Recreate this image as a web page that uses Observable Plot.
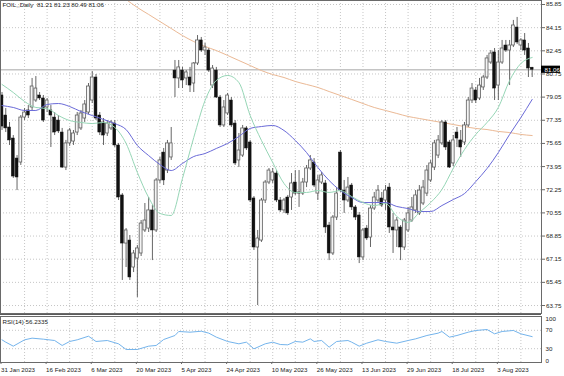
<!DOCTYPE html>
<html><head><meta charset="utf-8">
<script src="https://cdn.jsdelivr.net/npm/d3@7"></script>
<script src="https://cdn.jsdelivr.net/npm/@observablehq/plot@0.6"></script>
<style>
body{margin:0;background:#fff;}
#chart{width:564px;height:376px;overflow:hidden;background:#fff;}
#chart svg{display:block;}
.sep{width:541px;height:0;border-top:2px solid #5a5a5a;}
</style></head><body><div id="chart"></div>
<script>
const titleText = "FOIL,,Daily  81.21 81.23 80.49 81.06";
const rsiTitle = "RSI(14) 56.2335";
const bidPrice = 81.06;

const opens = [79.17,77.70,76.82,76.01,74.54,74.25,77.55,78.07,78.29,78.80,79.17,78.95,78.29,78.07,77.55,77.33,76.45,73.88,75.65,75.79,76.45,76.75,77.48,77.92,78.80,80.49,77.70,77.19,76.38,76.75,77.11,75.50,71.83,68.30,68.52,66.54,67.20,67.57,69.26,69.40,70.73,69.26,72.93,74.98,73.66,74.62,81.00,80.42,81.00,80.42,80.49,80.05,81.52,83.21,82.47,82.47,79.90,81.00,79.02,76.97,77.85,78.80,77.11,74.40,74.76,76.75,75.72,71.61,68.01,68.52,71.46,72.78,72.93,73.44,71.46,70.73,71.68,71.68,72.78,72.05,71.97,72.78,73.81,74.25,71.97,72.78,72.71,69.62,67.57,70.21,74.98,72.19,71.46,72.56,70.95,70.36,67.28,69.40,68.74,70.87,71.46,71.61,71.46,72.41,69.48,69.26,69.48,68.01,69.26,69.99,70.73,70.51,71.24,71.97,72.93,73.88,74.76,75.65,77.19,75.72,74.18,76.45,75.87,75.72,76.97,78.80,79.54,78.95,79.76,80.49,81.59,82.33,79.90,81.59,82.84,82.47,82.84,84.16,82.84,83.21,82.62,81.21];
const highs = [79.39,78.21,77.19,76.23,74.76,77.70,78.21,78.43,80.42,80.56,79.39,79.17,78.95,78.43,77.92,77.70,76.75,75.87,76.75,76.60,77.92,78.07,78.80,80.05,80.93,80.71,77.92,77.48,77.33,77.33,77.33,75.65,71.97,69.40,68.89,67.79,68.16,69.99,71.24,71.68,71.09,73.08,74.62,75.28,75.87,76.82,81.74,81.74,81.23,81.00,81.23,81.59,83.57,83.43,82.99,82.62,81.37,81.23,79.17,78.80,79.32,79.02,77.33,76.38,76.97,76.89,75.87,71.75,69.26,71.61,72.93,73.81,73.81,73.66,71.68,71.61,71.83,73.44,73.66,73.66,73.08,74.03,74.76,74.54,73.30,73.52,72.93,69.85,70.36,72.41,75.13,72.93,73.15,72.71,71.09,70.58,69.40,69.62,71.09,72.05,72.56,72.05,72.56,72.71,70.51,70.21,69.62,70.14,70.95,71.68,72.19,72.56,72.93,74.03,74.40,75.87,76.23,77.33,77.33,75.87,76.23,76.82,76.60,77.19,79.02,80.05,79.76,80.42,80.64,82.11,82.47,82.62,82.47,83.21,83.21,83.21,84.68,84.90,83.35,83.72,82.99,81.23];
const lows = [76.60,76.45,75.50,73.08,72.19,74.03,77.33,77.48,78.07,78.66,78.80,77.19,77.92,75.35,76.23,76.38,73.81,73.66,75.43,75.50,76.23,76.60,77.19,77.77,78.58,77.33,76.23,75.50,76.16,76.60,75.35,71.46,65.59,66.54,65.59,66.17,64.34,67.35,69.11,69.11,67.05,69.11,72.71,72.56,73.44,74.40,79.02,79.68,79.68,79.90,79.39,79.39,81.37,82.33,82.11,80.86,79.68,78.95,76.82,76.82,77.70,76.82,74.03,73.88,74.62,75.13,71.31,67.79,63.75,68.38,71.24,72.63,72.71,71.31,70.58,70.51,70.36,70.73,71.83,70.95,71.83,72.41,73.66,72.41,71.46,72.63,69.04,67.05,67.42,69.99,72.05,70.51,71.31,70.73,69.99,66.83,67.05,68.52,68.01,70.73,71.24,70.95,70.73,69.04,67.57,68.01,67.05,67.79,69.11,69.85,70.51,70.36,71.09,71.75,72.78,73.66,74.54,75.50,75.13,73.81,73.96,75.35,74.62,75.50,76.82,78.58,78.58,78.80,79.54,80.34,81.45,78.80,78.80,81.45,82.33,79.90,82.69,82.91,82.47,82.11,80.49,80.49];
const closes = [76.89,76.75,75.87,73.22,73.15,77.55,77.92,77.70,79.83,79.68,78.95,77.33,78.80,77.70,76.45,76.53,73.88,75.65,76.60,76.38,77.70,77.85,78.51,79.83,80.49,77.48,76.45,76.23,77.11,77.19,75.50,71.68,68.30,69.26,65.81,67.57,67.94,69.77,69.99,70.73,69.26,72.93,74.40,72.93,75.65,75.65,80.42,81.23,80.27,80.86,79.90,81.52,83.21,82.47,82.69,81.00,81.15,79.02,76.97,78.29,79.17,76.97,74.18,75.13,76.75,75.28,71.46,68.01,68.67,71.46,72.78,73.66,73.52,71.46,70.73,71.46,70.51,72.71,71.97,71.97,72.78,73.81,74.40,72.56,72.93,73.30,69.48,67.57,70.21,71.97,72.19,71.46,72.41,70.95,70.21,67.28,69.26,68.67,70.87,71.68,72.19,71.09,72.19,69.48,69.26,69.99,68.01,69.99,70.51,70.95,71.83,72.19,72.41,73.66,74.18,75.65,75.87,77.19,75.35,73.88,75.87,76.01,75.35,76.97,78.80,79.68,78.80,79.90,80.49,81.89,82.25,79.68,81.59,82.62,82.47,82.84,84.31,83.06,83.21,82.47,81.15,81.06];

const maBars = [0,3,6,9,12,15,18,21,24,27,30,33,36,39,42,45,48,51,54,57,60,63,66,69,72,75,78,81,84,87,90,93,96,99,102,105,108,111,114,117,120,123,126,129,132,135,138,141];
const maFast = [79.98,79.39,78.73,78.29,78.21,77.70,77.33,77.19,77.11,77.19,76.82,75.65,73.52,71.68,70.51,70.36,73.08,76.09,78.80,80.27,80.64,80.12,77.70,75.87,74.25,72.71,72.05,72.05,72.19,72.05,72.19,71.75,71.31,71.09,71.24,70.29,69.85,70.58,71.31,72.27,73.81,75.20,76.31,77.19,78.29,80.27,81.52,81.96];
const maMid = [78.43,78.29,78.07,78.07,78.51,78.58,78.36,77.99,77.70,77.41,77.11,76.67,75.50,74.76,74.10,73.66,74.18,74.69,74.91,75.28,75.65,76.16,76.75,76.89,76.97,76.60,75.87,74.98,73.88,72.93,72.19,71.68,71.31,71.31,71.31,71.02,70.87,70.65,70.65,71.09,71.53,71.97,72.85,73.81,74.98,76.31,77.55,78.88];
const slowBars = [33,36,39,42,45,48,51,54,57,60,63,66,69,72,75,78,81,84,87,90,93,96,99,102,105,108,111,114,117,120,123,126,129,132,135,138,141];
const maSlow = [86.22,85.63,85.12,84.60,84.09,83.57,83.13,82.77,82.47,82.11,81.74,81.37,81.00,80.71,80.49,80.20,79.98,79.76,79.46,79.17,78.88,78.58,78.29,78.07,77.85,77.63,77.48,77.33,77.19,77.04,76.89,76.75,76.67,76.53,76.45,76.31,76.23];

const rsiBars = [0,1,3,6,8,11,14,16,18,20,23,25,28,31,33,36,39,41,43,46,47,50,53,55,57,60,63,65,67,70,72,74,76,78,80,82,83,85,87,89,92,93,95,97,100,102,105,108,110,113,116,117,119,121,124,126,129,131,133,136,138,141];
const rsiVals = [49.3,44.2,35.5,49.3,52.9,50.7,47.8,37.0,45.7,49.3,57.2,45.7,47.8,40.6,28.3,28.3,35.5,37.0,50.0,58.7,67.4,65.9,68.0,63.8,55.1,45.7,40.6,44.2,29.7,40.6,44.2,39.1,38.4,45.7,44.2,51.4,45.7,47.8,33.3,45.7,47.8,44.2,35.5,42.0,49.3,45.7,42.0,47.8,51.4,58.7,63.8,67.4,55.1,58.7,65.9,69.6,71.7,62.3,67.4,69.6,62.3,56.2];

const priceTicks = [85.85,84.15,82.45,80.75,79.05,77.35,75.65,73.95,72.25,70.55,68.85,67.15,65.45,63.75];
const rsiLevels = [70,30];
const gridBars = [6,12,18,24,30,36,42,48,54,60,66,72,78,84,90,96,102,108,114,120,126,132,138];
const labelBars = [0,12,24,36,48,60,72,84,96,108,120,132];
const dateLabels = ["31 Jan 2023","16 Feb 2023","6 Mar 2023","20 Mar 2023","5 Apr 2023","24 Apr 2023","10 May 2023","26 May 2023","13 Jun 2023","29 Jun 2023","18 Jul 2023","3 Aug 2023"];

const candles = opens.map((o, i) => ({i, o, h: highs[i], l: lows[i], c: closes[i]}));
const bull = candles.filter(d => d.c >= d.o);
const bear = candles.filter(d => d.c < d.o);
const fast = maBars.map((b, k) => ({b, v: maFast[k]}));
const mid = maBars.map((b, k) => ({b, v: maMid[k]}));
const slow = slowBars.map((b, k) => ({b, v: maSlow[k]}));
const rsi = rsiBars.map((b, k) => ({b, v: rsiVals[k]}));

const xDomain = [-0.4, 143.48];
const font = "'Liberation Sans', Arial, sans-serif";
const gridStyle = {stroke: "#c6c6c6", strokeDasharray: "1,2", strokeWidth: 1};

const main = Plot.plot({
  width: 564, height: 313,
  marginLeft: 0, marginRight: 23, marginTop: 0, marginBottom: 0,
  x: {domain: xDomain, axis: null},
  y: {domain: [63.164, 86.144], axis: null},
  style: {background: "#fff", fontFamily: font, fontSize: "6.2px", color: "#222", overflow: "visible"},
  marks: [
    Plot.ruleY(priceTicks, gridStyle),
    Plot.ruleX(gridBars, gridStyle),
    Plot.ruleY([bidPrice], {stroke: "#c4c4c4", strokeWidth: 1.3}),
    Plot.line(slow, {x: "b", y: "v", stroke: "#ebb995", strokeWidth: 1, clip: true, curve: "monotone-x"}),
    Plot.ruleX(candles, {x: "i", y1: "l", y2: "h", stroke: "#555", strokeWidth: 0.9}),
    Plot.rect(bear, {x1: d => d.i - 0.38, x2: d => d.i + 0.38, y1: "o", y2: "c", fill: "#111", stroke: "#111", strokeWidth: 0.5}),
    Plot.rect(bull, {x1: d => d.i - 0.38, x2: d => d.i + 0.38, y1: "o", y2: "c", fill: "#f4f4f4", stroke: "#5e5e5e", strokeWidth: 0.8}),
    Plot.line(mid, {x: "b", y: "v", stroke: "#6a6ad8", strokeWidth: 1, curve: "monotone-x"}),
    Plot.line(fast, {x: "b", y: "v", stroke: "#96d6b6", strokeWidth: 1, curve: "monotone-x"}),
    Plot.frame({stroke: "#6a6a6a"}),
    Plot.axisY({anchor: "right", ticks: priceTicks, tickSize: 3, tickPadding: 1.5, tickFormat: d => d.toFixed(2), label: null, stroke: "#6a6a6a"}),
    Plot.rect([bidPrice], {x1: () => xDomain[1], x2: () => xDomain[1], y1: d => d, y2: d => d, insetRight: -19, insetTop: -3.6, insetBottom: -3.6, fill: "#000"}),
    Plot.text([bidPrice], {x: () => xDomain[1], y: d => d, text: d => d.toFixed(2), textAnchor: "start", dx: 3, fill: "#fff"}),
    Plot.text([titleText], {frameAnchor: "top-left", dx: 2, dy: 2, textAnchor: "start", lineAnchor: "top", fill: "#222"})
  ]
});

const rsiPlot = Plot.plot({
  width: 564, height: 61,
  marginLeft: 0, marginRight: 23, marginTop: 1, marginBottom: 14,
  x: {domain: xDomain, axis: null},
  y: {domain: [0, 100], axis: null},
  style: {background: "#fff", fontFamily: font, fontSize: "6.2px", color: "#222", overflow: "visible"},
  marks: [
    Plot.ruleY(rsiLevels, gridStyle),
    Plot.ruleX(gridBars, gridStyle),
    Plot.line(rsi, {x: "b", y: "v", stroke: "#74b4ec", strokeWidth: 1}),
    Plot.frame({stroke: "#6a6a6a"}),
    Plot.text(rsiLevels, {x: () => xDomain[1], y: d => d, text: d => String(d), textAnchor: "start", dx: 4, fill: "#222"}),
    Plot.text([100], {x: () => xDomain[1], y: d => d, text: d => String(d), textAnchor: "start", dx: 4, dy: 3, fill: "#222"}),
    Plot.text([0], {x: () => xDomain[1], y: d => d, text: d => String(d), textAnchor: "start", dx: 4, dy: -1, fill: "#222"}),
    Plot.axisX({anchor: "bottom", ticks: labelBars, tickSize: 2, tickPadding: 3, textAnchor: "start", dx: -1, tickFormat: d => dateLabels[labelBars.indexOf(d)], label: null, stroke: "#6a6a6a"}),
    Plot.text([rsiTitle], {frameAnchor: "top-left", dx: 2, dy: 3, textAnchor: "start", lineAnchor: "top", fill: "#222"})
  ]
});

const root = document.getElementById("chart");
root.appendChild(main);
const sep = document.createElement("div");
sep.className = "sep";
root.appendChild(sep);
root.appendChild(rsiPlot);
</script></body></html>
